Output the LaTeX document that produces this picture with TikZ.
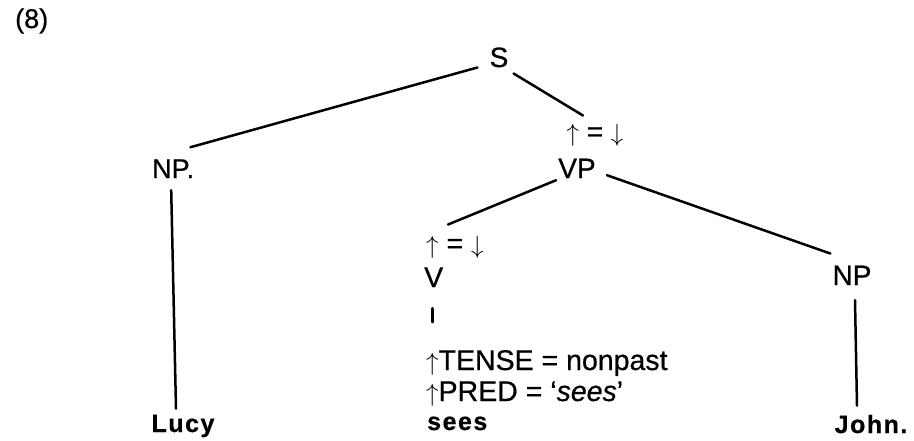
\documentclass[tikz,border=0pt]{standalone}
\usepackage{fontspec}
\setmainfont{Liberation Sans}[FakeBold=0.6]
\usepackage{tikz}
\newcommand{\fup}{\ensuremath{\uparrow}}
\newcommand{\fdown}{\ensuremath{\downarrow}}

\begin{document}
\begin{tikzpicture}[
		x=1pt, y=-1pt,
		cat/.style={inner sep=2pt, anchor=base, font=\fontsize{28}{30}\selectfont},
		eqn/.style={inner sep=2pt, anchor=base west, font=\fontsize{28.5}{30}\selectfont},
		word/.style={inner sep=2pt, anchor=base, font=\fontsize{25}{30}\selectfont\bfseries\addfontfeatures{LetterSpace=6}},
		branch/.style={draw=black, line width=2.5pt, line cap=round}
		]
		\useasboundingbox (0,0) rectangle (914,440);
		\node[eqn, font=\fontsize{27}{30}\selectfont] (exnum) at (13,28) {(8)};
		% categories
		\node[cat] (S) at (499,67) {S};
		\node[eqn, font=\fontsize{27}{30}\selectfont] (npsubj) at (150,178) {NP\kern-3pt.};
		\node[cat] (uS) at (595,141) {\fup\;=\;\fdown};
		\node[cat] (VP) at (577,178) {VP};
		\node[eqn] (uV) at (424,253) {\fup\;=\;\fdown};
		\node[eqn] (V) at (422,287) {V};
		\node[cat] (npobj) at (852,285) {NP};
		% lexical entry
		\node[eqn] (tense) at (424,370) {\fup TENSE = nonpast};
		\node[eqn] (pred) at (424,401) {\fup PRED = ‘\textit{sees}’};
		% words
		\node[word] (lucy) at (183,432) {Lucy};
		\node[word, anchor=base west] (sees) at (425,430) {sees};
		\node[word] (john) at (871,433) {John.};
		% branches
		\draw[branch] ([shift={(-10,-2)}]S.south west) -- ([shift={(-6,-10)}]npsubj.north east);
		\draw[branch] ([shift={(3,4)}]S.south east) -- ([shift={(-12,-6)}]uS.north);
		\draw[branch] (VP.south west) -- ([shift={(24,-9)}]uV.north west);
		\draw[branch] ([shift={(9,-5)}]VP.south east) -- ([shift={(0,-10)}]npobj.north west);
		\draw[branch] ([shift={(-2,10)}]npsubj.south) -- ([shift={(-7,-4)}]lucy.north);
		\draw[branch] ([shift={(-1,19)}]V.south) -- ([shift={(-1,33)}]V.south);
		\draw[branch] ([shift={(3,13)}]npobj.south) -- ([shift={(-14,-7)}]john.north);
	\end{tikzpicture}
\end{document}
